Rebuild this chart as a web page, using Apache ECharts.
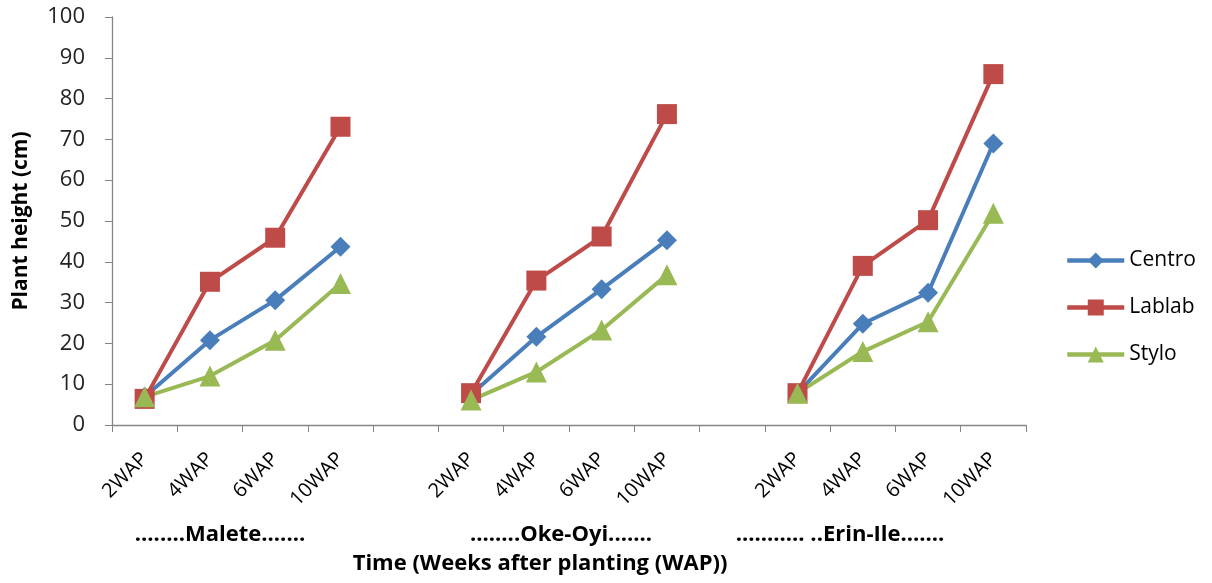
<!DOCTYPE html>
<html>
<head>
<meta charset="utf-8">
<script src="https://cdn.jsdelivr.net/npm/echarts@6/dist/echarts.min.js"></script>
<style>
html,body{margin:0;padding:0;background:#fff;}
#chart{width:1212px;height:583px;}
</style>
</head>
<body>
<div id="chart"></div>
<script>
// Categories: three sites, 4 sampling times each, with an empty spacer category between sites
const categories = ['2WAP','4WAP','6WAP','10WAP','', '2WAP','4WAP','6WAP','10WAP','', '2WAP','4WAP','6WAP','10WAP'];
const siteLabels = ['........Malete.......', '........Oke-Oyi.......', '........... ..Erin-Ile.......'];
const xTitle = 'Time (Weeks after planting (WAP))';
const yTitle = 'Plant height (cm)';
const centro = [6.9, 20.8, 30.6, 43.7, null, 7.5, 21.6, 33.3, 45.3, null, 7.8, 24.8, 32.4, 69.0];
const lablab = [6.4, 35.1, 45.9, 73.1, null, 7.8, 35.4, 46.2, 76.2, null, 7.8, 39.0, 50.2, 86.0];
const stylo  = [6.9, 12.0, 20.8, 34.7, null, 6.1, 13.0, 23.3, 36.8, null, 7.8, 18.0, 25.3, 51.9];

const FONT = '"Open Sans", Lato, sans-serif';
const chart = echarts.init(document.getElementById('chart'));

function mkSeries(name, data, color, symbol, size) {
  return {
    name, type: 'line', data, symbol, symbolSize: size,
    connectNulls: false,
    lineStyle: { color, width: 4 },
    itemStyle: { color },
    emphasis: { disabled: true },
    z: 2
  };
}

const option = {
  animation: false,
  textStyle: { fontFamily: FONT },
  grid: { left: 112, right: 186, top: 17, bottom: 158 },
  legend: {
    orient: 'vertical',
    left: 1065, top: 250, padding: 0,
    itemWidth: 57, itemHeight: 20, itemGap: 26,
    lineStyle: { width: 4.5 },
    textStyle: { fontSize: 21, lineHeight: 20, color: '#000', fontFamily: FONT },
    data: ['Centro', 'Lablab', 'Stylo']
  },
  xAxis: {
    type: 'category',
    data: categories,
    boundaryGap: true,
    axisLine: { lineStyle: { color: '#868686', width: 1.3 } },
    axisTick: { show: true, length: 7, interval: 0, lineStyle: { color: '#868686' } },
    axisLabel: { interval: 0, rotate: 45, fontSize: 20, color: '#000', margin: 31, fontFamily: FONT },
    splitLine: { show: false }
  },
  yAxis: {
    type: 'value', min: 0, max: 100, interval: 10,
    name: yTitle,
    nameLocation: 'middle', nameGap: 80,
    nameTextStyle: { fontSize: 21, fontWeight: 'bold', color: '#000', fontFamily: FONT },
    axisLine: { show: true, lineStyle: { color: '#868686', width: 1.3 } },
    axisTick: { show: true, length: 7, lineStyle: { color: '#868686' } },
    axisLabel: { fontSize: 22, color: '#222', margin: 27, fontFamily: FONT },
    splitLine: { show: false }
  },
  series: [
    mkSeries('Centro', centro, '#4A7EBB', 'diamond', 20),
    mkSeries('Lablab', lablab, '#BE4B48', 'rect', 20),
    mkSeries('Stylo', stylo, '#98B954', 'triangle', 21)
  ]
};
chart.setOption(option);

// group labels and x-axis title placed beneath the rotated tick labels
const groupCenterX = [220, 561, 840];
const graphics = siteLabels.map((t, i) => ({
  type: 'text',
  x: groupCenterX[i], y: 535,
  style: { text: t, fontSize: 22, fontWeight: 'bold', fontFamily: FONT, fill: '#000', align: 'center', verticalAlign: 'middle' }
}));
graphics.push({
  type: 'text',
  x: 540, y: 564,
  style: { text: xTitle, fontSize: 22, fontWeight: 'bold', fontFamily: FONT, fill: '#000', align: 'center', verticalAlign: 'middle' }
});
chart.setOption({ graphic: graphics });
</script>
</body>
</html>
